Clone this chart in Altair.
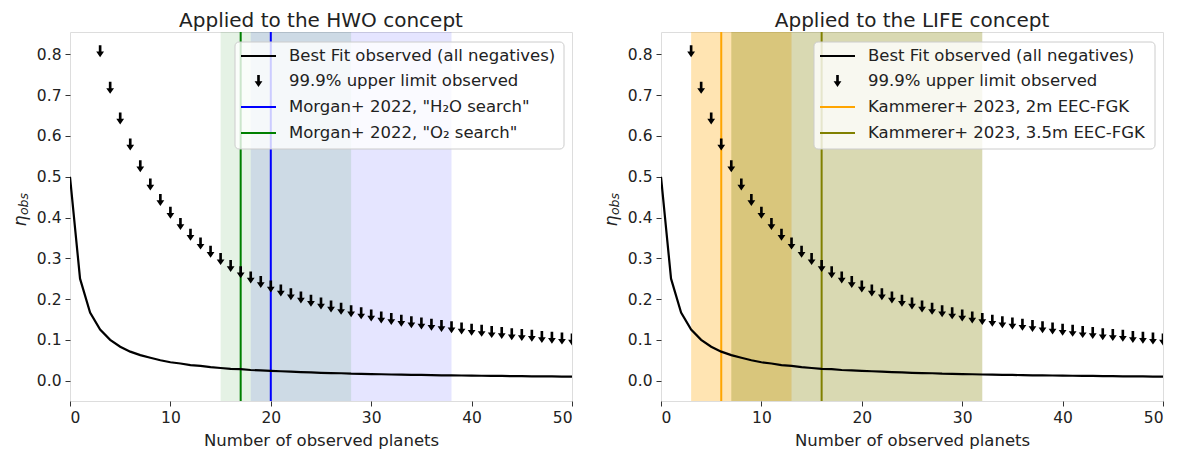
import altair as alt
import pandas as pd

# ---------------- data ----------------
n_planets = list(range(0, 51))
best_fit = [0.500, 0.250, 0.167, 0.125, 0.100, 0.083, 0.071, 0.0625, 0.056, 0.050,
            0.045, 0.042, 0.038, 0.036, 0.033, 0.031, 0.029, 0.028, 0.026, 0.025,
            0.024, 0.023, 0.022, 0.021, 0.020, 0.019, 0.0185, 0.018, 0.017, 0.0167,
            0.016, 0.0156, 0.015, 0.0147, 0.0143, 0.0139, 0.0135, 0.013, 0.0128, 0.0125,
            0.0122, 0.0119, 0.0116, 0.0114, 0.0111, 0.0109, 0.0106, 0.0104, 0.0102, 0.010,
            0.0098]

n_limits = list(range(3, 51))
upper_limit = [0.808, 0.718, 0.643, 0.579, 0.526, 0.481, 0.443, 0.412, 0.384, 0.358,
               0.336, 0.316, 0.298, 0.281, 0.266, 0.253, 0.242, 0.231, 0.221, 0.212,
               0.204, 0.196, 0.189, 0.182, 0.176, 0.170, 0.165, 0.160, 0.155, 0.151,
               0.147, 0.143, 0.140, 0.137, 0.134, 0.131, 0.128, 0.125, 0.122, 0.119,
               0.117, 0.114, 0.112, 0.110, 0.107, 0.105, 0.103, 0.101]

panel_titles = ["Applied to the HWO concept", "Applied to the LIFE concept"]

# HWO panel: Morgan+ 2022
hwo_labels = ['Morgan+ 2022, "H\u2082O search"', 'Morgan+ 2022, "O\u2082 search"']
hwo_lines = [20, 17]
hwo_band_lo = [18, 15]
hwo_band_hi = [38, 28]
hwo_colors = ["#0000ff", "#008000"]
hwo_alpha = [0.1, 0.1]

# LIFE panel: Kammerer+ 2023
life_labels = ["Kammerer+ 2023, 2m EEC-FGK", "Kammerer+ 2023, 3.5m EEC-FGK"]
life_lines = [6, 16]
life_band_lo = [3, 7]
life_band_hi = [13, 32]
life_colors = ["#ffa500", "#808000"]
life_alpha = [0.3, 0.3]

fit_label = "Best Fit observed (all negatives)"
lim_label = "99.9% upper limit observed"

# ---------------- styling ----------------
W, H = 502, 369
FONT = "DejaVu Sans"
TXT = "#222222"
ARROW = "M-0.22,-1 L0.22,-1 L0.22,0.05 L0.65,0.05 L0,1 L-0.65,0.05 L-0.22,0.05 Z"
LEG_FS = 16.5

x_scale = alt.Scale(domain=[0, 50], nice=False, zero=False)
y_scale = alt.Scale(domain=[-0.05, 0.855], nice=False, zero=False)
x_axis = alt.Axis(title="Number of observed planets", values=[0, 10, 20, 30, 40, 50],
                  format="d", grid=False, domain=False, tickSize=5, tickColor="#333",
                  labelPadding=4, labelFontSize=15.5, titleFontSize=16.5, titleFontWeight="normal",
                  titlePadding=7, labelColor=TXT, titleColor=TXT, labelFont=FONT, titleFont=FONT)
y_axis = alt.Axis(title=None, values=[0, 0.1, 0.2, 0.3, 0.4, 0.5, 0.6, 0.7, 0.8], format=".1f",
                  grid=False, domain=False, tickSize=5, tickColor="#333", labelPadding=4,
                  labelFontSize=15.5, labelColor=TXT, labelFont=FONT)

fit_df = pd.DataFrame({"n": n_planets, "eta": best_fit})
lim_df = pd.DataFrame({"n": n_limits, "eta": upper_limit})
dummy = pd.DataFrame({"a": [0]})


def panel(title, labels, lines, lo, hi, colors, alphas, box_x):
    layers = []
    # shaded ranges
    for l, h, c, a in zip(lo, hi, colors, alphas):
        bdf = pd.DataFrame({"lo": [l], "hi": [h]})
        layers.append(alt.Chart(bdf).mark_rect(color=c, opacity=a).encode(
            x=alt.X("lo:Q", scale=x_scale, axis=x_axis), x2="hi:Q",
            y=alt.value(0), y2=alt.value(H)))
    # vertical lines
    for v, c in zip(lines, colors):
        vdf = pd.DataFrame({"v": [v]})
        layers.append(alt.Chart(vdf).mark_rule(color=c, strokeWidth=2).encode(
            x=alt.X("v:Q", scale=x_scale, axis=x_axis)))
    # best fit
    layers.append(alt.Chart(fit_df).mark_line(color="black", strokeWidth=2.2, clip=True).encode(
        x=alt.X("n:Q", scale=x_scale, axis=x_axis),
        y=alt.Y("eta:Q", scale=y_scale, axis=y_axis)))
    # upper limits
    layers.append(alt.Chart(lim_df).mark_point(shape=ARROW, filled=True, color="black", opacity=1,
                                               size=144, strokeWidth=0, clip=True).encode(
        x=alt.X("n:Q", scale=x_scale, axis=x_axis),
        y=alt.Y("eta:Q", scale=y_scale, axis=y_axis)))

    # legend
    x0 = box_x
    x1 = W - 8
    ys = [24, 49, 75, 101]
    hx0, hx1 = x0 + 6, x0 + 41
    tx = x0 + 54
    layers.append(alt.Chart(dummy).mark_rect(fill="white", fillOpacity=0.8, stroke="#cccccc",
                                             strokeWidth=1, cornerRadius=4).encode(
        x=alt.value(x0), x2=alt.value(x1), y=alt.value(10), y2=alt.value(117)))
    entries = [("line", "black", fit_label), ("arrow", "black", lim_label)] + \
              [("line", c, lab) for c, lab in zip(colors, labels)]
    for (kind, c, lab), yy in zip(entries, ys):
        if kind == "line":
            layers.append(alt.Chart(dummy).mark_rule(color=c, strokeWidth=2).encode(
                x=alt.value(hx0), x2=alt.value(hx1), y=alt.value(yy)))
        else:
            layers.append(alt.Chart(dummy).mark_point(shape=ARROW, filled=True, color="black",
                                                      opacity=1, size=144, strokeWidth=0).encode(
                x=alt.value((hx0 + hx1) / 2), y=alt.value(yy)))
        layers.append(alt.Chart(dummy).mark_text(align="left", baseline="middle", fontSize=LEG_FS,
                                                 font=FONT, color=TXT, text=lab).encode(
            x=alt.value(tx), y=alt.value(yy)))

    # y axis title: eta_obs
    layers.append(alt.Chart(dummy).mark_text(angle=270, align="center", baseline="middle",
                                             fontSize=17.5, fontStyle="italic", font=FONT,
                                             color=TXT, text="\u03b7").encode(
        x=alt.value(-49), y=alt.value(189)))
    layers.append(alt.Chart(dummy).mark_text(angle=270, align="center", baseline="middle",
                                             fontSize=12.5, fontStyle="italic", font=FONT,
                                             color=TXT, text="obs").encode(
        x=alt.value(-46), y=alt.value(172)))

    return alt.layer(*layers).properties(
        width=W, height=H,
        title=alt.TitleParams(title, fontSize=20, fontWeight="normal", font=FONT, color=TXT,
                              anchor="middle", offset=0))


left = panel(panel_titles[0], hwo_labels, hwo_lines, hwo_band_lo, hwo_band_hi,
             hwo_colors, hwo_alpha, 165)
right = panel(panel_titles[1], life_labels, life_lines, life_band_lo, life_band_hi,
              life_colors, life_alpha, 153)

chart = alt.hconcat(left, right, spacing=29).properties(
    padding={"left": 3, "top": 2, "right": 0, "bottom": 0}).configure_view(
    stroke="#333333", strokeWidth=1).configure(background="white")

chart.save("out.html", embed_options={"renderer": "svg", "actions": False})
